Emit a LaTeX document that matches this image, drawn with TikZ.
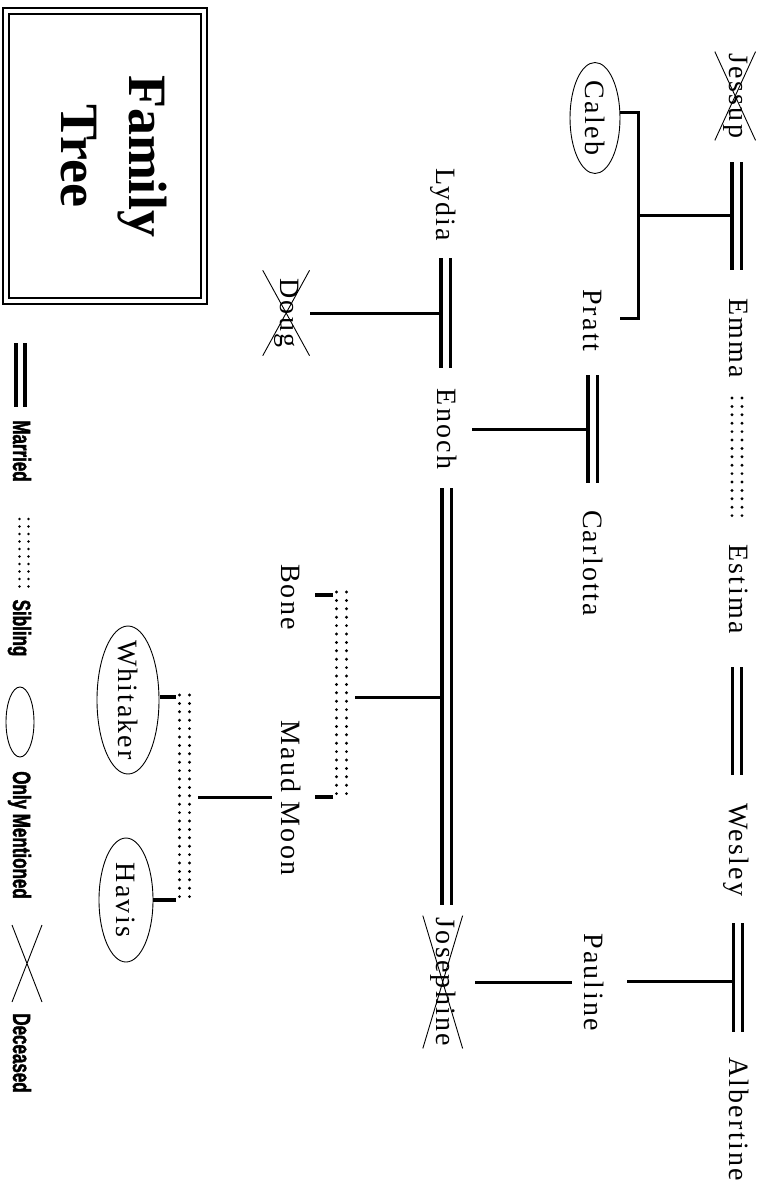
\documentclass[tikz,border=0pt]{standalone}
\usepackage{fontspec}
\setmainfont{Liberation Serif}
\newfontfamily\legendfont[FakeStretch=0.68,FakeBold=1.5]{Liberation Sans}
\usetikzlibrary{shapes.geometric,positioning}

\begin{document}
\begin{tikzpicture}[x=1pt, y=-1pt,
    person/.style={rotate=-90, anchor=base, inner sep=0pt,
      font=\fontsize{28}{32}\selectfont\addfontfeature{LetterSpace=8}},
    dead/.style={person, inner xsep=2pt, inner ysep=8pt},
    mention/.style={person, anchor=center, ellipse, draw, line width=.9pt},
    key/.style={rotate=-90, anchor=base, inner sep=0pt,
      font=\legendfont\bfseries\fontsize{25}{28}\selectfont},
    wed/.style={line width=3.2pt, double, double distance=6pt},
    link/.style={line width=3pt},
    tick/.style={line width=4pt},
    sib/.style={line width=3.2pt, line cap=round, dash pattern=on 0pt off 8.4pt},
    cross/.style={line width=.9pt}]
  \useasboundingbox (0,0) rectangle (769,1187);

  % title box
  \draw[line width=2.8pt] (3,8) rectangle (207,304);
  \draw[line width=1.1pt] (9,14) rectangle (201,298);
  \node[rotate=-90, align=center, inner sep=0pt,
        font=\fontsize{54}{68}\selectfont\bfseries] (title) at (114,156) {Family\\Tree};

  % top row
  \node[dead] (jessup) at (729,96) {Jessup};
  \node[person] (emma) at (729,338) {Emma};
  \node[person] (estima) at (729,589) {Estima};
  \node[person] (wesley) at (729,850) {Wesley};
  \node[person] (albertine) at (729,1119) {Albertine};

  % second row
  \node[mention, minimum width=111pt, minimum height=50pt] (caleb) at (595,118) {\makebox[0pt]{Caleb}};
  \node[person] (pratt) at (583,320) {Pratt};
  \node[person] (carlotta) at (583,563) {Carlotta};
  \node[person] (pauline) at (584,982) {Pauline};

  % third row
  \node[person] (lydia) at (436,205) {Lydia};
  \node[person] (enoch) at (437,429) {Enoch};
  \node[dead, inner ysep=7pt] (josephine) at (436,982) {Josephine};

  % fourth row
  \node[dead, inner xsep=8pt, inner ysep=11pt] (doug) at (280,313) {Doug};
  \node[person] (bone) at (281,597) {Bone};
  \node[person] (maud) at (281,798) {Maud Moon};

  % fifth row
  \node[mention, minimum width=148pt, minimum height=62pt] (whitaker) at (128,700) {\makebox[0pt]{Whitaker}};
  \node[mention, minimum width=124pt, minimum height=54pt] (havis) at (126,900) {\makebox[0pt]{Havis}};

  \foreach \who in {jessup,doug,josephine}
    \draw[cross] (\who.north west) -- (\who.south east) (\who.south west) -- (\who.north east);

  % marriages
  \coordinate (jeA) at (736.5,162); \coordinate (jeB) at (736.5,270);
  \coordinate (ewA) at (737,667);   \coordinate (ewB) at (737,775);
  \coordinate (waA) at (738,923);   \coordinate (waB) at (738,1032);
  \coordinate (pcA) at (592.5,375); \coordinate (pcB) at (592.5,483);
  \coordinate (leA) at (445.5,258); \coordinate (leB) at (445.5,368);
  \coordinate (ejA) at (446.5,488); \coordinate (ejB) at (446.5,905);
  \draw[wed] (jeA) -- (jeB);
  \draw[wed] (ewA) -- (ewB);
  \draw[wed] (waA) -- (waB);
  \draw[wed] (pcA) -- (pcB);
  \draw[wed] (leA) -- (leB);
  \draw[wed] (ejA) -- (ejB);

  % children
  \coordinate (jeMid) at (732,215);   \coordinate (jeKids) at (638,215);
  \coordinate (calebTick) at (620,112); \coordinate (prattTick) at (620,318);
  \draw[link] (jeMid) -- (jeKids);
  \draw[link] (calebTick) -- ++(18,0) |- (prattTick);

  \coordinate (leMid) at (441,313);
  \draw[link] (leMid) -- (doug.north);

  \coordinate (pcMid) at (588,429);
  \draw[link, shorten >=15pt] (pcMid) -- (enoch.north);

  \coordinate (waMid) at (733.5,981); \coordinate (toPauline) at (627,981);
  \draw[link] (waMid) -- (toPauline);
  \draw[link, shorten <=12pt, shorten >=12pt] (pauline.south) -- (josephine.north);

  \coordinate (ejMid) at (442,697); \coordinate (ejKids) at (355,697);
  \draw[link] (ejMid) -- (ejKids);

  \coordinate (mmKids) at (272,797); \coordinate (whKids) at (198,797);
  \draw[link] (mmKids) -- (whKids);

  % siblings
  \coordinate (eeA) at (737,398); \coordinate (eeB) at (737,523);
  \coordinate (bmA) at (341.5,592); \coordinate (bmB) at (341.5,798);
  \coordinate (whA) at (184.5,695); \coordinate (whB) at (184.5,900);
  \foreach \s in {-5,5} {
    \draw[sib] ([xshift=\s pt]eeA) -- ([xshift=\s pt]eeB);
    \draw[sib] ([xshift=\s pt]bmA) -- ([xshift=\s pt]bmB);
    \draw[sib] ([xshift=\s pt]whA) -- ([xshift=\s pt]whB);
  }
  \draw[tick] (333,595) -- (315,595);
  \draw[tick] (333,797) -- (315,797);
  \draw[tick] (176,697) -- (160,697);
  \draw[tick] (176,900) -- (153,900);

  % legend
  \coordinate (kwA) at (20.5,343); \coordinate (kwB) at (20.5,407);
  \draw[wed, line width=4pt, double distance=5pt] (kwA) -- (kwB);
  \node[key] (married) at (13,451) {Married};
  \coordinate (ksA) at (24,519); \coordinate (ksB) at (24,587);
  \foreach \s in {-4.5,4.5}
    \draw[sib, line width=2.8pt, dash pattern=on 0pt off 7.5pt] ([xshift=\s pt]ksA) -- ([xshift=\s pt]ksB);
  \node[key] (sibling) at (13,628) {Sibling};
  \node[ellipse, draw, line width=.9pt, minimum width=28pt, minimum height=70pt] (kment) at (20,722) {};
  \node[key] (onlyment) at (13,835) {Only Mentioned};
  \coordinate (kxA) at (12,925); \coordinate (kxB) at (42,1002);
  \draw[cross] (kxA) -- (kxB) (kxA |- kxB) -- (kxB |- kxA);
  \node[key] (deceased) at (13,1053) {Deceased};
\end{tikzpicture}
\end{document}
